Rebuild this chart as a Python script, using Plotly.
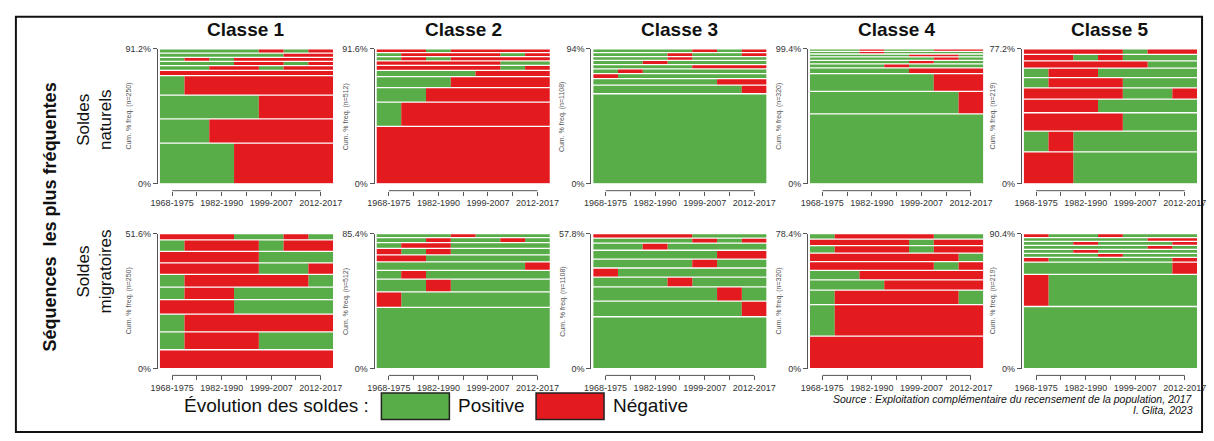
import plotly.graph_objects as go

# ---------------- data ----------------
periods = ["1968-1975", "1975-1982", "1982-1990", "1990-1999", "1999-2007", "2007-2012", "2012-2017"]
shown_tick_labels = ["1968-1975", "", "1982-1990", "", "1999-2007", "", "2012-2017"]
classes = ["Classe 1", "Classe 2", "Classe 3", "Classe 4", "Classe 5"]
class_n = [250, 512, 1108, 320, 219]
row_labels = ["Soldes<br>naturels", "Soldes<br>migratoires"]
state_names = ["Positive", "Négative"]

# sequences listed from bottom (most frequent) to top; P = positive, N = negative
nat_c1_seq = ["PPPNNNN", "PPNNNNN", "PPPPNNN", "PNNNNNN", "NNNNNNN", "PPNNPNN", "PPPNNPN", "PNPNNNN", "PPPPPNN", "PPPPNPN"]
nat_c1_freq = [27.6, 16.4, 16.0, 13.2, 3.6, 3.2, 2.8, 2.8, 2.8, 2.8]
nat_c2_seq = ["NNNNNNN", "PNNNNNN", "PPNNNNN", "PPPNNNN", "PPPPNNN", "NNNNNPN", "NNNNNPP", "PNPNNNN", "PNNNNPN", "NNPNNNN"]
nat_c2_freq = [39.1, 16.4, 9.9, 7.4, 4.3, 3.3, 3.1, 2.9, 2.7, 2.5]
nat_c3_seq = ["PPPPPPP", "PPPPPPN", "PPPPPNN", "NPPPPPP", "PNPPPPP", "PPPPNNN", "PPNPPPP", "PPPNPPP", "PPPNPPN", "PPPPNPN"]
nat_c3_freq = [62.8, 6.0, 4.5, 3.6, 3.2, 3.0, 2.9, 2.7, 2.7, 2.6]
nat_c4_seq = ["PPPPPPP", "PPPPPPN", "PPPPPNN", "PPPPNNN", "PPPNPPP", "PPPPNPP", "PPPPPNP", "PPPPNNP", "PPNPPPP", "PPNPPNN"]
nat_c4_freq = [51.6, 16.6, 13.1, 4.1, 3.1, 2.5, 2.5, 2.2, 1.9, 1.8]
nat_c5_seq = ["NNPPPPP", "PNPPPPP", "NNNNPPP", "NNNPPPP", "NNNNPPN", "PNNNPPP", "PNNPPPP", "NNNNNPP", "NNPNPPP", "NNNNPNN"]
nat_c5_freq = [18.3, 11.9, 10.5, 7.8, 6.4, 5.9, 5.5, 4.1, 3.7, 3.1]

mig_c1_seq = ["NNNNNNN", "PNNNPPP", "PNNNNNN", "NNNPPPP", "PNNPPPP", "PNNNNNP", "NNNNPPN", "NNNNPPP", "PNNNPNN", "NNNPPNP"]
mig_c1_freq = [7.2, 6.8, 6.8, 5.6, 4.8, 4.8, 4.4, 4.4, 4.4, 2.4]
mig_c2_seq = ["PPPPPPP", "NPPPPPP", "PPNPPPP", "PNPPPPP", "PPPPPPN", "NNPPPPP", "NPNPPPP", "PNNPPPP", "PPNPPNP", "PPPNPPP"]
mig_c2_freq = [38.7, 9.9, 8.0, 5.6, 5.3, 4.5, 4.1, 3.7, 3.1, 2.5]
mig_c3_seq = ["PPPPPPP", "PPPPPPN", "PPPPPNP", "PPPNPPP", "NPPPPPP", "PPPPNPP", "PPPPPNN", "PPNPPPP", "PPPPNPN", "NNNNPPP"]
mig_c3_freq = [22.2, 6.7, 6.1, 4.2, 3.9, 3.8, 3.8, 3.1, 2.1, 1.9]
mig_c4_seq = ["NNNNNNN", "PNNNNNN", "PNNNNNP", "PPPNNNN", "PPNNNNN", "NNNNNPN", "NNNNNNP", "PNNNPNN", "NNNNPNN", "PNNNNPP"]
mig_c4_freq = [18.8, 18.4, 8.4, 5.9, 5.6, 5.0, 5.0, 4.4, 3.8, 3.1]
mig_c5_seq = ["PPPPPPP", "NPPPPPP", "PPPPPPN", "NPPPPPN", "PPPNPPP", "PPNPPPP", "PPPPPNP", "PPNPPPN", "PPPPPNN", "NPPNPPP"]
mig_c5_freq = [41.6, 21.5, 8.2, 3.2, 2.7, 2.7, 2.7, 2.6, 2.6, 2.6]

# ---------------- style / layout ----------------
W, H = 1214, 441
GREEN = "#58AD48"
RED = "#E31B1E"
state_color = {"P": GREEN, "N": RED}
FONT = "Liberation Sans, Arial, sans-serif"

panel_left = [153, 373, 593, 813, 1030]
panel_w = 176
row_top = [45, 234]
row_bottom = [183, 372]
gap_px = 1.3


def fx(p):
    return p / W


def fy(p):
    return 1 - p / H


panels = [
    [(nat_c1_seq, nat_c1_freq), (nat_c2_seq, nat_c2_freq), (nat_c3_seq, nat_c3_freq),
     (nat_c4_seq, nat_c4_freq), (nat_c5_seq, nat_c5_freq)],
    [(mig_c1_seq, mig_c1_freq), (mig_c2_seq, mig_c2_freq), (mig_c3_seq, mig_c3_freq),
     (mig_c4_seq, mig_c4_freq), (mig_c5_seq, mig_c5_freq)],
]

fig = go.Figure()
layout = {}
shapes = []
annotations = []

k = 0
for r in range(2):
    for c in range(5):
        k += 1
        seqs, freqs = panels[r][c]
        top = round(sum(freqs), 1)
        ph = row_bottom[r] - row_top[r]
        gap = gap_px * top / ph
        runs = {"P": {"x": [], "y": [], "base": [], "w": []},
                "N": {"x": [], "y": [], "base": [], "w": []}}
        cum = 0.0
        for s, f in zip(seqs, freqs):
            start = 0
            for j in range(1, len(s) + 1):
                if j == len(s) or s[j] != s[start]:
                    d = runs[s[start]]
                    d["x"].append(j - start)
                    d["base"].append(start)
                    d["y"].append(cum + f / 2)
                    d["w"].append(max(f - gap, 0.05))
                    start = j
            cum += f
        xa = "x" if k == 1 else f"x{k}"
        ya = "y" if k == 1 else f"y{k}"
        for st in ["P", "N"]:
            d = runs[st]
            fig.add_trace(go.Bar(
                orientation="h", x=d["x"], y=d["y"], base=d["base"], width=d["w"],
                marker=dict(color=state_color[st], line=dict(width=0)),
                xaxis=xa, yaxis=ya, showlegend=False, hoverinfo="skip",
            ))
        x0 = panel_left[c]
        x1 = x0 + panel_w
        layout["xaxis" if k == 1 else f"xaxis{k}"] = dict(
            domain=[fx(x0), fx(x1)], range=[0, len(periods)], anchor="free",
            position=fy(row_bottom[r] + 7),
            tickmode="array", tickvals=[i + 0.5 for i in range(len(periods))],
            ticktext=shown_tick_labels, ticks="outside", ticklen=4, tickcolor="#555",
            tickfont=dict(size=9, color="#333", family=FONT),
            showline=False, showgrid=False, zeroline=False, fixedrange=True,
        )
        layout["yaxis" if k == 1 else f"yaxis{k}"] = dict(
            domain=[fy(row_bottom[r]), fy(row_top[r])], range=[0, top], anchor="free",
            position=fx(x0 - 3),
            tickmode="array", tickvals=[0, top], ticktext=["0%", f"{top:g}%"],
            ticks="outside", ticklen=4, tickcolor="#555",
            tickfont=dict(size=9, color="#333", family=FONT),
            showline=True, linecolor="#555", linewidth=1,
            showgrid=False, zeroline=False, fixedrange=True,
        )
        # R-style x axis line from first to last tick
        shapes.append(dict(type="line", xref=xa, yref="paper", x0=0.5, x1=len(periods) - 0.5,
                           y0=fy(row_bottom[r] + 7), y1=fy(row_bottom[r] + 7),
                           line=dict(color="#555", width=1)))
        annotations.append(dict(
            text=f"Cum. % freq. (n={class_n[c]})", textangle=-90, xref="paper", yref="paper",
            x=fx(x0 - 31), y=fy((row_top[r] + row_bottom[r]) / 2), showarrow=False,
            font=dict(size=7, color="#555", family=FONT), xanchor="center", yanchor="middle",
        ))
        if r == 0:
            annotations.append(dict(
                text=f"<b>{classes[c]}</b>", xref="paper", yref="paper",
                x=fx(x0 + panel_w / 2), y=fy(25), showarrow=False,
                font=dict(size=19, color="#111", family=FONT), xanchor="center", yanchor="middle",
            ))

# row labels
row_label_y = [118, 273]
for r in range(2):
    annotations.append(dict(
        text=row_labels[r], textangle=-90, xref="paper", yref="paper",
        x=fx(87), y=fy(row_label_y[r]), showarrow=False,
        font=dict(size=17, color="#111", family=FONT), xanchor="center", yanchor="middle",
    ))
annotations.append(dict(
    text="<b>Séquences\u00a0 les plus fréquentes</b>", textangle=-90, xref="paper", yref="paper",
    x=fx(42), y=fy(217), showarrow=False,
    font=dict(size=18, color="#111", family=FONT), xanchor="center", yanchor="middle",
))

# legend
annotations.append(dict(text="Évolution des soldes :", xref="paper", yref="paper", x=fx(367), y=fy(410),
                        showarrow=False, xanchor="right", yanchor="middle",
                        font=dict(size=19, color="#111", family=FONT)))
shapes.append(dict(type="rect", xref="paper", yref="paper", x0=fx(378), x1=fx(447), y0=fy(424), y1=fy(397),
                   fillcolor=GREEN, line=dict(color="#222", width=1.5)))
annotations.append(dict(text=state_names[0], xref="paper", yref="paper", x=fx(454), y=fy(410),
                        showarrow=False, xanchor="left", yanchor="middle",
                        font=dict(size=19, color="#111", family=FONT)))
shapes.append(dict(type="rect", xref="paper", yref="paper", x0=fx(535), x1=fx(604), y0=fy(424), y1=fy(397),
                   fillcolor=RED, line=dict(color="#222", width=1.5)))
annotations.append(dict(text=state_names[1], xref="paper", yref="paper", x=fx(611), y=fy(410),
                        showarrow=False, xanchor="left", yanchor="middle",
                        font=dict(size=19, color="#111", family=FONT)))

# source
annotations.append(dict(text="<i>Source : Exploitation complémentaire du recensement de la population, 2017</i>",
                        xref="paper", yref="paper", x=fx(1204), y=fy(403), showarrow=False,
                        xanchor="right", yanchor="middle", font=dict(size=10.5, color="#111", family=FONT)))
annotations.append(dict(text="<i>I. Glita, 2023</i>",
                        xref="paper", yref="paper", x=fx(1204), y=fy(414), showarrow=False,
                        xanchor="right", yanchor="middle", font=dict(size=10.5, color="#111", family=FONT)))

# frame
shapes.append(dict(type="rect", xref="paper", yref="paper", x0=fx(7), x1=fx(1211), y0=fy(437), y1=fy(12),
                   line=dict(color="#111", width=2), fillcolor="rgba(0,0,0,0)", layer="below"))

fig.update_layout(
    width=W, height=H, margin=dict(l=0, r=0, t=0, b=0),
    paper_bgcolor="white", plot_bgcolor="white",
    barmode="overlay", showlegend=False,
    shapes=shapes, annotations=annotations,
    font=dict(family=FONT),
    **layout,
)

fig.write_html(
    "out.html",
    config={"displayModeBar": False, "staticPlot": True},
    post_script="document.documentElement.style.margin='0';document.body.style.margin='0';"
                "document.body.style.padding='0';document.body.style.overflow='hidden';",
)
